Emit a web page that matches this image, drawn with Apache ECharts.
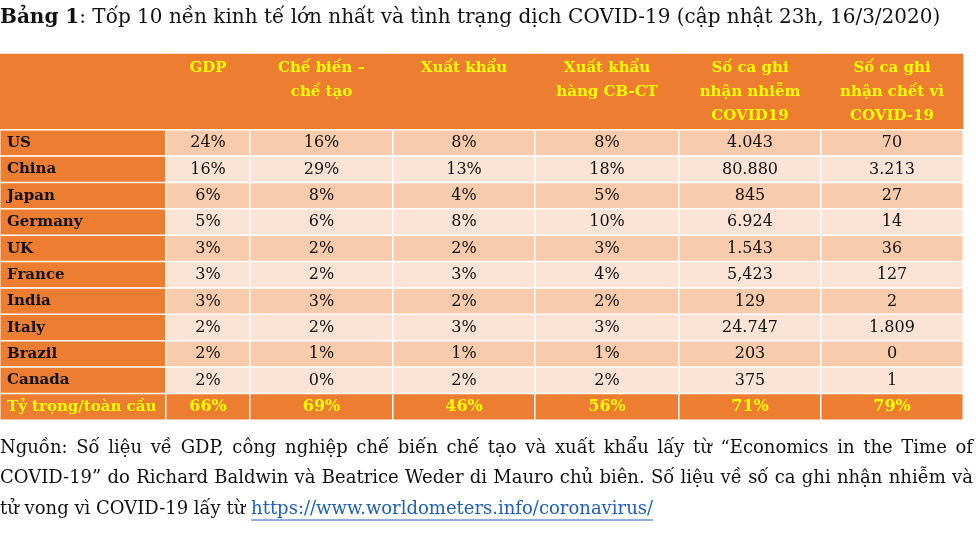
<!DOCTYPE html>
<html>
<head>
<meta charset="utf-8">
<script src="https://cdn.jsdelivr.net/npm/echarts@6/dist/echarts.min.js"></script>
<style>
html, body { margin: 0; padding: 0; background: #fff; }
#chart { width: 976px; height: 541px; }
</style>
</head>
<body>
<div id="chart"></div>
<script>
// dữ liệu bảng
var headers = ['', 'GDP', 'Chế biến –\nchế tạo', 'Xuất khẩu', 'Xuất khẩu\nhàng CB-CT', 'Số ca ghi\nnhận nhiễm\nCOVID19', 'Số ca ghi\nnhận chết vì\nCOVID-19'];
var countries = ['US', 'China', 'Japan', 'Germany', 'UK', 'France', 'India', 'Italy', 'Brazil', 'Canada'];
var totalLabel = 'Tỷ trọng/toàn cầu';
var gdp = [24, 16, 6, 5, 3, 3, 3, 2, 2, 2];
var manufacturing = [16, 29, 8, 6, 2, 2, 3, 2, 1, 0];
var exportsAll = [8, 13, 4, 8, 2, 3, 2, 3, 1, 2];
var exportsManu = [8, 18, 5, 10, 3, 4, 2, 3, 1, 2];
var cases = ['4.043', '80.880', '845', '6.924', '1.543', '5,423', '129', '24.747', '203', '375'];
var deaths = ['70', '3.213', '27', '14', '36', '127', '2', '1.809', '0', '1'];
var totals = [66, 69, 46, 56, 71, 79];

var title = '{b|Bảng 1}: Tốp 10 nền kinh tế lớn nhất và tình trạng dịch COVID-19 (cập nhật 23h, 16/3/2020)';
var note1 = 'Nguồn: Số liệu về GDP, công nghiệp chế biến chế tạo và xuất khẩu lấy từ “Economics in the Time of';
var note2 = 'COVID-19” do Richard Baldwin và Beatrice Weder di Mauro chủ biên. Số liệu về số ca ghi nhận nhiễm và';
var note3 = 'tử vong vì COVID-19 lấy từ ';
var link = 'https://www.worldometers.info/coronavirus/';

function pct(v) { return v + '%'; }

var colTexts = [
    countries,
    gdp.map(pct),
    manufacturing.map(pct),
    exportsAll.map(pct),
    exportsManu.map(pct),
    cases,
    deaths
];
var totalTexts = [totalLabel].concat(totals.map(pct));
var rowNames = countries.concat([totalLabel]);

// bố cục
var colLeft = [0, 166, 250, 393, 535, 679, 821];
var colWidth = [166, 84, 143, 142, 144, 142, 142];
var headTop = 54, headHeight = 76;
var bodyTop = 130, bodyHeight = 290;

var ORANGE = '#ED7D31';
var DARK = '#F8CBAD';
var LIGHT = '#FBE4D5';
var YELLOW = '#FFFF00';
var FONT = 'DejaVu Serif';
var NOTE_FONT = '18px "' + FONT + '"';

var grid = [], xAxis = [], yAxis = [], series = [];

headers.forEach(function (h, c) {
    // ô tiêu đề
    grid.push({ left: colLeft[c], width: colWidth[c], top: headTop, height: headHeight });
    xAxis.push({ type: 'category', data: [h], gridIndex: grid.length - 1, show: false });
    yAxis.push({ type: 'category', data: ['head'], gridIndex: grid.length - 1, show: false });
    series.push({
        type: 'heatmap',
        xAxisIndex: grid.length - 1,
        yAxisIndex: grid.length - 1,
        data: [{ value: [0, 0, 0], itemStyle: { color: ORANGE } }],
        itemStyle: { borderWidth: 0 },
        label: {
            show: true,
            position: 'insideTop',
            distance: 2,
            formatter: h,
            color: YELLOW,
            fontFamily: FONT,
            fontWeight: 'bold',
            fontSize: 15,
            lineHeight: 24
        },
        emphasis: { disabled: true },
        silent: true
    });

    // thân bảng
    grid.push({ left: colLeft[c], width: colWidth[c], top: bodyTop, height: bodyHeight });
    xAxis.push({ type: 'category', data: [h], gridIndex: grid.length - 1, show: false });
    yAxis.push({ type: 'category', data: rowNames, inverse: true, gridIndex: grid.length - 1, show: false });
    var texts = colTexts[c].concat([totalTexts[c]]);
    var data = texts.map(function (t, r) {
        var isTotal = r === texts.length - 1;
        var color = c === 0 || isTotal ? ORANGE : (r % 2 === 0 ? DARK : LIGHT);
        return {
            value: [0, r, r],
            itemStyle: { color: color },
            label: {
                color: isTotal ? YELLOW : '#111',
                fontWeight: c === 0 || isTotal ? 'bold' : 'normal'
            }
        };
    });
    series.push({
        type: 'heatmap',
        xAxisIndex: grid.length - 1,
        yAxisIndex: grid.length - 1,
        data: data,
        itemStyle: { borderColor: '#fff', borderWidth: 1.5 },
        label: {
            show: true,
            position: c === 0 ? 'insideLeft' : 'inside',
            distance: 8,
            fontFamily: FONT,
            fontSize: c === 0 ? 15 : 16,
            formatter: function (p) { return texts[p.dataIndex]; }
        },
        emphasis: { disabled: true },
        silent: true
    });
});

// đo chữ để căn đều dòng chú thích và gạch chân đường dẫn
var ctx = document.createElement('canvas').getContext('2d');
ctx.font = NOTE_FONT;
var noteStyle = { font: NOTE_FONT, fill: '#111', verticalAlign: 'middle' };

function justified(line, y, width) {
    var words = line.split(' ');
    var used = 0;
    words.forEach(function (w) { used += ctx.measureText(w).width; });
    var gap = (width - used) / (words.length - 1);
    var x = 0, out = [];
    words.forEach(function (w) {
        out.push({ type: 'text', x: x, y: y, style: Object.assign({ text: w }, noteStyle) });
        x += ctx.measureText(w).width + gap;
    });
    return out;
}

var linkX = ctx.measureText(note3).width;
var linkW = ctx.measureText(link).width;

var graphics = [
    {
        type: 'text', x: 0, y: 18,
        style: {
            text: title,
            font: '20px "' + FONT + '"',
            fill: '#111',
            verticalAlign: 'middle',
            rich: { b: { fontFamily: FONT, fontSize: 20, fontWeight: 'bold', fill: '#111' } }
        }
    }
].concat(justified(note1, 448, 973), justified(note2, 478, 973), [
    { type: 'text', x: 0, y: 509, style: Object.assign({ text: note3 }, noteStyle) },
    { type: 'text', x: linkX, y: 509, style: Object.assign({}, noteStyle, { text: link, fill: '#1F5FB5' }) },
    {
        type: 'line',
        shape: { x1: linkX, y1: 520, x2: linkX + linkW, y2: 520 },
        style: { stroke: '#1F5FB5', lineWidth: 1 }
    }
]);

var option = {
    backgroundColor: '#fff',
    animation: false,
    grid: grid,
    xAxis: xAxis,
    yAxis: yAxis,
    series: series,
    graphic: graphics
};

var myChart = echarts.init(document.getElementById('chart'));
myChart.setOption(option);
</script>
</body>
</html>
